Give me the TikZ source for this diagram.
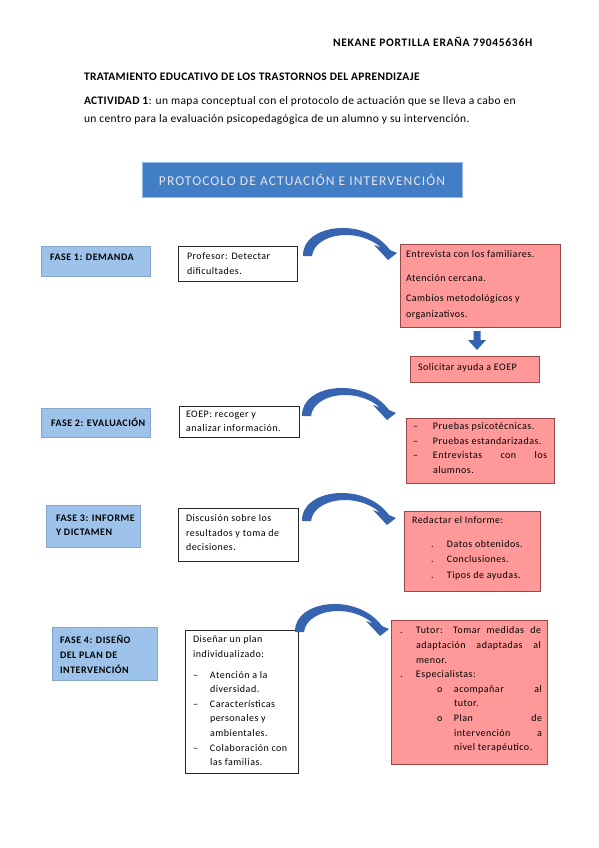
\documentclass[tikz,border=0pt]{standalone}
\usepackage{fontspec}
\setmainfont{Carlito}
\newfontfamily\hdrfont{Carlito}[LetterSpace=3]
\newfontfamily\namefont{Carlito}[LetterSpace=6]
\newfontfamily\boxfont{Carlito}[LetterSpace=5]
\newfontfamily\banfont{Carlito}[LetterSpace=8]
\definecolor{bannerblue}{RGB}{66,126,198}
\definecolor{bannerline}{RGB}{150,185,225}
\definecolor{faseblue}{RGB}{157,195,234}
\definecolor{pinkfill}{RGB}{255,153,153}
\definecolor{pinkline}{RGB}{150,72,72}
\definecolor{arrowblue}{RGB}{54,100,176}
\definecolor{bantext}{RGB}{228,228,232}
\begin{document}
\begin{tikzpicture}[x=1pt,y=-1pt,
  every node/.style={inner sep=0pt,outer sep=0pt},
  fasebox/.style={fill=faseblue,draw=faseblue!85!black,line width=0.4pt,anchor=north west},
  whitebox/.style={fill=white,draw=black!85,line width=0.7pt,anchor=north west},
  pinkbox/.style={fill=pinkfill,draw=pinkline,line width=0.7pt,anchor=north west},
  boxtext/.style={anchor=north west,align=left,font=\boxfont\fontsize{10}{14.5}\selectfont},
  fasetext/.style={anchor=north west,align=left,font=\boxfont\bfseries\fontsize{10}{14}\selectfont},
  curvearrow/.pic={\fill[arrowblue] (0,0) .. controls (-1,-32) and (62,-40) .. (87,-6) -- (94,-3) -- (85,4) -- (71,-11) -- (78,-8.5) .. controls (55,-29) and (12,-23) .. (9,0) -- cycle;}
]
\useasboundingbox[fill=white] (0,0) rectangle (599,848);

% header
\node[anchor=base west,font=\namefont\bfseries\fontsize{11.5}{13}\selectfont] (name) at (333,47) {NEKANE PORTILLA ERAÑA 79045636H};
\node[anchor=base west,font=\hdrfont\bfseries\fontsize{11.5}{13}\selectfont] (title) at (84,81) {TRATAMIENTO EDUCATIVO DE LOS TRASTORNOS DEL APRENDIZAJE};
\node[anchor=base west,font=\hdrfont\fontsize{11.5}{13}\selectfont] (act1) at (84,105) {\textbf{ACTIVIDAD 1}: un mapa conceptual con el protocolo de actuación que se lleva a cabo en};
\node[anchor=base west,font=\hdrfont\fontsize{11.5}{13}\selectfont] (act2) at (84,123) {un centro para la evaluación psicopedagógica de un alumno y su intervención.};

% banner
\node[fill=bannerblue,draw=bannerline,line width=0.8pt,minimum width=320pt,minimum height=35pt,text=bantext,font=\banfont\fontsize{13.5}{15}\selectfont] (banner) at (302,180) {PROTOCOLO DE ACTUACIÓN E INTERVENCIÓN};

% FASE 1
\node[fasebox,minimum width=109pt,minimum height=30pt] (f1) at (41,246) {};
\node[fasetext] (f1t) at (50,254) {FASE 1: DEMANDA};
\node[whitebox,minimum width=119pt,minimum height=35pt] (prof) at (178,246) {};
\node[boxtext] (proft) at (187,253) {Profesor: Detectar\\dificultades.};
\node[pinkbox,minimum width=160pt,minimum height=83pt] (p1) at (400,244) {};
\node[boxtext,font=\boxfont\fontsize{10}{16}\selectfont] (p1t) at (406,251) {Entrevista con los familiares.\\[8pt]Atención cercana.\\[4pt]Cambios metodológicos y\\organizativos.};
\node[pinkbox,minimum width=129pt,minimum height=26pt] (sol) at (410,356) {};
\node[boxtext] (solt) at (418,364) {Solicitar ayuda a EOEP};
\pic at ([shift={(6,10)}]prof.north east) {curvearrow};
\coordinate (da) at ([shift={(-3,4)}]p1.south);
\fill[arrowblue] (da) ++(-3.5,0) -- ++(7,0) -- ++(0,9) -- ++(5.5,0) -- ++(-9,10) -- ++(-9,-10) -- ++(5.5,0) -- cycle;

% FASE 2
\node[fasebox,minimum width=109pt,minimum height=29pt] (f2) at (41,408) {};
\node[fasetext] (f2t) at (51,418) {FASE 2: EVALUACIÓN};
\node[whitebox,minimum width=120pt,minimum height=31pt] (eoep) at (179,406) {};
\node[boxtext] (eoept) at (186,411) {EOEP: recoger y\\analizar información.};
\node[pinkbox,minimum width=148pt,minimum height=65pt] (p2) at (406,418) {};
\node[boxtext] (p2t) at (413,423) {\makebox[20pt][l]{–}Pruebas psicotécnicas.\\\makebox[20pt][l]{–}Pruebas estandarizadas.\\\makebox[20pt][l]{–}\makebox[114pt][s]{Entrevistas con los}\\\hspace*{20pt}alumnos.};
\pic at ([shift={(3,10)}]eoep.north east) {curvearrow};

% FASE 3
\node[fasebox,minimum width=94pt,minimum height=42pt] (f3) at (46,505) {};
\node[fasetext] (f3t) at (56,515) {FASE 3: INFORME\\Y DICTAMEN};
\node[whitebox,minimum width=120pt,minimum height=53pt] (disc) at (178,508) {};
\node[boxtext] (disct) at (186,515) {Discusión sobre los\\resultados y toma de\\decisiones.};
\node[pinkbox,minimum width=136pt,minimum height=80pt] (p3) at (404,511) {};
\node[boxtext,font=\boxfont\fontsize{10}{15.5}\selectfont] (p3t) at (412,517) {Redactar el Informe:\\[8pt]\hspace*{19pt}\makebox[16pt][l]{.}Datos obtenidos.\\\hspace*{19pt}\makebox[16pt][l]{.}Conclusiones.\\\hspace*{19pt}\makebox[16pt][l]{.}Tipos de ayudas.};
\pic at ([shift={(4,13)}]disc.north east) {curvearrow};

% FASE 4
\node[fasebox,minimum width=105pt,minimum height=53pt] (f4) at (52,627) {};
\node[fasetext,font=\boxfont\bfseries\fontsize{10}{15}\selectfont] (f4t) at (60,635) {FASE 4: DISEÑO\\DEL PLAN DE\\INTERVENCIÓN};
\node[whitebox,minimum width=113pt,minimum height=143pt] (dis) at (185,630) {};
\node[boxtext,font=\boxfont\fontsize{10}{14.6}\selectfont] (dist) at (193,636) {Diseñar un plan\\individualizado:\\[6pt]\makebox[17pt][l]{–}Atención a la\\\hspace*{17pt}diversidad.\\\makebox[17pt][l]{–}Características\\\hspace*{17pt}personales y\\\hspace*{17pt}ambientales.\\\makebox[17pt][l]{–}Colaboración con\\\hspace*{17pt}las familias.};
\node[pinkbox,minimum width=156pt,minimum height=144pt] (p4) at (391,620) {};
\node[boxtext,font=\boxfont\fontsize{10}{14.6}\selectfont] (p4t) at (400,627) {\makebox[16pt][l]{.}\makebox[125pt][s]{Tutor: Tomar medidas de}\\\hspace*{16pt}\makebox[125pt][s]{adaptación adaptadas al}\\\hspace*{16pt}menor.\\\makebox[16pt][l]{.}Especialistas:\\\hspace*{37pt}\makebox[17pt][l]{o}\makebox[88pt][s]{acompañar al}\\\hspace*{54pt}tutor.\\\hspace*{37pt}\makebox[17pt][l]{o}\makebox[88pt][s]{Plan de}\\\hspace*{54pt}\makebox[88pt][s]{intervención a}\\\hspace*{54pt}nivel terapéutico.};
\pic at ([shift={(-3,2)}]dis.north east) {curvearrow};
\end{tikzpicture}
\end{document}
